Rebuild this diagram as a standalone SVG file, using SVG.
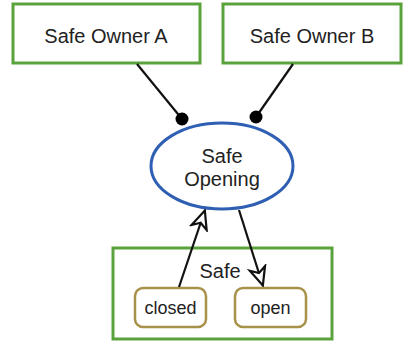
<svg xmlns="http://www.w3.org/2000/svg" width="406" height="346" viewBox="0 0 406 346">
<style>
.box{fill:#fff;stroke:#5aa33c;stroke-width:3}
.state{fill:#fff;stroke:#a8924a;stroke-width:2.5}
.ell{fill:#fff;stroke:#2f5fb3;stroke-width:3}
.t{font-family:"Liberation Sans",Arial,sans-serif;font-size:20px;fill:#222;text-anchor:middle}
.ts{font-family:"Liberation Sans",Arial,sans-serif;font-size:18px;fill:#222;text-anchor:middle}
.ln{stroke:#111;stroke-width:2.2;fill:none}
</style>
<defs>
<marker id="dot" viewBox="0 0 14 14" refX="7" refY="7" markerWidth="14" markerHeight="14" markerUnits="userSpaceOnUse">
<circle cx="7" cy="7" r="6.5" fill="#000"/>
</marker>
<marker id="open" viewBox="0 0 22 20" refX="20.5" refY="10" markerWidth="22" markerHeight="20" markerUnits="userSpaceOnUse" orient="auto">
<path d="M2,2 L20,10 L2,18 L7,10 Z" fill="#fff" stroke="#111" stroke-width="2.2" stroke-linejoin="miter"/>
</marker>
</defs>
<g id="ownerA">
<rect class="box" x="13" y="4" width="187" height="59"/>
<text class="t" x="106" y="43">Safe Owner A</text>
</g>
<g id="ownerB">
<rect class="box" x="223" y="4" width="178" height="59"/>
<text class="t" x="312" y="43">Safe Owner B</text>
</g>
<g id="safeOpening">
<ellipse class="ell" cx="222" cy="166" rx="71" ry="43"/>
<text class="t" x="222" y="163">Safe</text>
<text class="t" x="222" y="186">Opening</text>
</g>
<g id="safe">
<rect class="box" x="113" y="248" width="219" height="91"/>
<text class="t" x="220" y="278">Safe</text>
</g>
<g id="closed">
<rect class="state" x="135" y="288" width="71" height="39" rx="8"/>
<text class="ts" x="170.5" y="314">closed</text>
</g>
<g id="open">
<rect class="state" x="235" y="288" width="71" height="39" rx="8"/>
<text class="ts" x="270.5" y="314">open</text>
</g>
<g id="connectors">
<line class="ln" x1="137" y1="64" x2="182" y2="119" marker-end="url(#dot)"/>
<line class="ln" x1="293" y1="64" x2="256" y2="117" marker-end="url(#dot)"/>
<line class="ln" x1="179" y1="287" x2="205" y2="210" marker-end="url(#open)"/>
<line class="ln" x1="239" y1="210" x2="263" y2="286" marker-end="url(#open)"/>
</g>
</svg>
